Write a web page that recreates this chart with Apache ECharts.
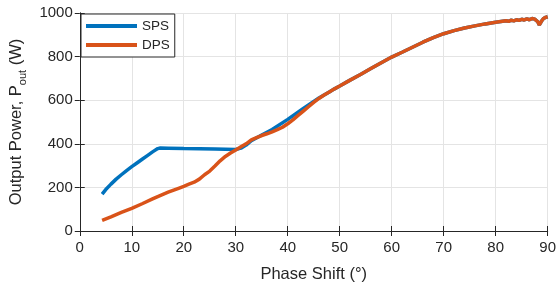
<!DOCTYPE html>
<html>
<head>
<meta charset="utf-8">
<script src="https://cdn.jsdelivr.net/npm/echarts@6/dist/echarts.min.js"></script>
<style>
  html, body { margin: 0; padding: 0; background: #fff; }
  #box { width: 559px; height: 288px; }
</style>
</head>
<body>
<div id="box"></div>
<script>
// phase shift (deg) and output power (W)
var spsPhase = [4.3, 5, 6, 7, 8, 9, 10, 11, 12, 13, 14, 15, 15.5, 17, 20, 23, 26, 28, 30, 31, 32, 33, 35, 37, 40, 43, 46];
var spsPower = [169, 190, 215, 238, 258, 277, 295, 312, 329, 346, 363, 378, 381, 380, 378, 377, 376, 375, 374, 380, 394, 414, 440, 466, 512, 562, 610];

var dpsPhase = [4.3, 6, 8, 10, 12, 14, 15, 17, 19, 20, 21, 22, 23, 24, 25, 26, 27, 28, 29, 30, 31, 32, 33, 34, 35, 36, 37, 38, 39, 40, 41, 42, 43, 44, 45, 46];
var dpsPower = [49, 65, 85, 104, 125, 147, 158, 178, 196, 205, 215, 224, 238, 258, 275, 298, 322, 342, 358, 372, 386, 400, 418, 428, 438, 446, 455, 465, 476, 492, 510, 530, 550, 570, 590, 608];

// shared part where both curves lie on top of each other
var tailPhase = [47, 48, 49, 50, 52, 54, 56, 58, 60, 62, 64, 66, 68, 70, 72, 74, 76, 78, 80, 82, 82.5, 83, 83.5, 84, 84.5, 85, 85.5, 86, 86.5, 87, 87.5, 87.8, 88.1, 88.4, 88.8, 89.2, 89.6, 90];
var tailPower = [624, 638, 652, 665, 692, 718, 745, 772, 798, 820, 843, 866, 887, 905, 919, 931, 941, 950, 958, 964, 962, 967, 964, 969, 966, 971, 968, 973, 969, 975, 972, 980, 960, 945, 962, 975, 980, 983];

var xTicks = [0, 10, 20, 30, 40, 50, 60, 70, 80, 90];
var yTicks = [0, 200, 400, 600, 800, 1000];

function pairs(xs, ys) {
    var out = [];
    for (var i = 0; i < xs.length; i++) out.push([xs[i], ys[i]]);
    for (var j = 0; j < tailPhase.length; j++) out.push([tailPhase[j], tailPower[j]]);
    return out;
}

var ink = "#262626";
var font = "Liberation Sans, Arial, sans-serif";

var chart = echarts.init(document.getElementById("box"));

var xBase = {
    type: "value", min: xTicks[0], max: xTicks[xTicks.length - 1], interval: 10,
    axisLine: { show: true, lineStyle: { color: ink, width: 1 } },
    axisTick: { show: true, inside: true, length: 5, lineStyle: { color: ink } }
};
var yBase = {
    type: "value", min: yTicks[0], max: yTicks[yTicks.length - 1], interval: 200,
    axisLine: { show: true, lineStyle: { color: ink, width: 1 } },
    axisTick: { show: true, inside: true, length: 5, lineStyle: { color: ink } }
};

chart.setOption({
    backgroundColor: "#fff",
    animation: false,
    textStyle: { fontFamily: font },
    grid: { left: 79, right: 7, top: 13, bottom: 48, containLabel: false },
    legend: {
        orient: "vertical",
        left: 81, top: 14,
        icon: "rect",
        itemWidth: 51, itemHeight: 4,
        itemGap: 5,
        itemTextGap: 4,
        padding: [5, 5, 5, 5],
        borderColor: ink, borderWidth: 1,
        backgroundColor: "#fff",
        textStyle: { color: ink, fontSize: 13.5, fontFamily: font },
        data: ["SPS", "DPS"]
    },
    xAxis: [
        Object.assign({}, xBase, {
            position: "bottom",
            name: "Phase Shift (°)",
            nameLocation: "middle",
            nameGap: 35,
            nameTextStyle: { color: ink, fontSize: 16.5, fontFamily: font },
            axisLabel: { color: ink, fontSize: 15, margin: 9, fontFamily: font },
            splitLine: { show: true, lineStyle: { color: "#e4e4e4", width: 1 } }
        }),
        Object.assign({}, xBase, {
            position: "top",
            axisLabel: { show: false },
            splitLine: { show: false }
        })
    ],
    yAxis: [
        Object.assign({}, yBase, {
            position: "left",
            name: "{a|Output Power, P}{s|out}{a| (W)}",
            nameLocation: "middle",
            nameGap: 41,
            nameTextStyle: {
                color: ink, fontFamily: font,
                rich: {
                    a: { fontSize: 16.5, color: ink, fontFamily: font, lineHeight: 24, verticalAlign: "middle" },
                    s: { fontSize: 11, color: ink, fontFamily: font, lineHeight: 24, verticalAlign: "bottom" }
                }
            },
            axisLabel: { color: ink, fontSize: 15, margin: 7, fontFamily: font, formatter: function (v) { return String(v); } },
            splitLine: { show: true, lineStyle: { color: "#e4e4e4", width: 1 } }
        }),
        Object.assign({}, yBase, {
            position: "right",
            axisLabel: { show: false },
            splitLine: { show: false }
        })
    ],
    series: [
        {
            name: "SPS", type: "line",
            data: pairs(spsPhase, spsPower),
            showSymbol: false, smooth: false,
            lineStyle: { color: "#0072BD", width: 3.5 },
            itemStyle: { color: "#0072BD" },
            z: 2
        },
        {
            name: "DPS", type: "line",
            data: pairs(dpsPhase, dpsPower),
            showSymbol: false, smooth: false,
            lineStyle: { color: "#D95319", width: 3.5 },
            itemStyle: { color: "#D95319" },
            z: 3
        }
    ]
});
</script>
</body>
</html>
